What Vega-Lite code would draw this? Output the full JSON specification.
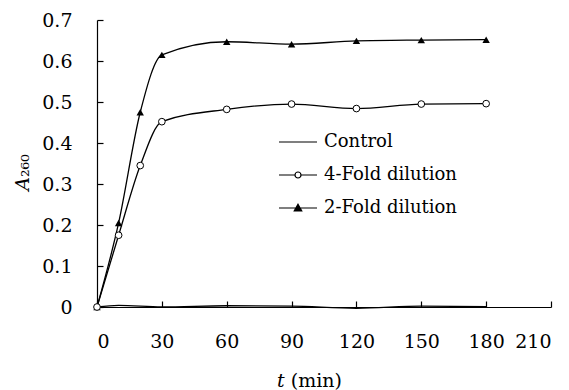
{
  "$schema": "https://vega.github.io/schema/vega-lite/v6.json",
  "autosize": "none",
  "width": 454,
  "height": 287,
  "padding": {"left": 97, "top": 20, "right": 18, "bottom": 83},
  "background": "white",
  "config": {
    "view": {"stroke": null},
    "font": "DejaVu Serif",
    "axis": {"grid": false, "domainColor": "black", "tickColor": "black", "labelColor": "black", "titleColor": "black", "labelFont": "DejaVu Serif", "titleFont": "DejaVu Serif", "labelFontSize": 19, "titleFontSize": 19, "titleFontWeight": "normal", "domainWidth": 1.2, "tickWidth": 1.2}
  },
  "data": {
    "values": [
      {"t": 0, "A": 0, "series": "Control"},
      {"t": 10, "A": 0.004, "series": "Control"},
      {"t": 30, "A": 0.0, "series": "Control"},
      {"t": 60, "A": 0.003, "series": "Control"},
      {"t": 90, "A": 0.002, "series": "Control"},
      {"t": 120, "A": -0.003, "series": "Control"},
      {"t": 150, "A": 0.002, "series": "Control"},
      {"t": 180, "A": 0.001, "series": "Control"},
      {"t": 0, "A": 0, "series": "2-Fold dilution"},
      {"t": 10, "A": 0.205, "series": "2-Fold dilution"},
      {"t": 20, "A": 0.475, "series": "2-Fold dilution"},
      {"t": 30, "A": 0.615, "series": "2-Fold dilution"},
      {"t": 60, "A": 0.647, "series": "2-Fold dilution"},
      {"t": 90, "A": 0.641, "series": "2-Fold dilution"},
      {"t": 120, "A": 0.649, "series": "2-Fold dilution"},
      {"t": 150, "A": 0.651, "series": "2-Fold dilution"},
      {"t": 180, "A": 0.652, "series": "2-Fold dilution"},
      {"t": 0, "A": 0, "series": "4-Fold dilution"},
      {"t": 10, "A": 0.175, "series": "4-Fold dilution"},
      {"t": 20, "A": 0.345, "series": "4-Fold dilution"},
      {"t": 30, "A": 0.452, "series": "4-Fold dilution"},
      {"t": 60, "A": 0.482, "series": "4-Fold dilution"},
      {"t": 90, "A": 0.495, "series": "4-Fold dilution"},
      {"t": 120, "A": 0.484, "series": "4-Fold dilution"},
      {"t": 150, "A": 0.495, "series": "4-Fold dilution"},
      {"t": 180, "A": 0.496, "series": "4-Fold dilution"}
    ]
  },
  "encoding": {
    "x": {"field": "t", "type": "quantitative", "scale": {"domain": [0, 210], "nice": false, "zero": false},
      "axis": {"values": [0, 30, 60, 90, 120, 150, 180, 210], "tickSize": -6, "labelPadding": 31, "title": "𝑡 (min)", "titleX": 212, "titleY": 79, "titleBaseline": "alphabetic", "titleAnchor": "middle", "titleAlign": "center"}},
    "y": {"field": "A", "type": "quantitative", "scale": {"domain": [0, 0.7], "nice": false},
      "axis": {"values": [0, 0.1, 0.2, 0.3, 0.4, 0.5, 0.6, 0.7], "format": ".1~f", "tickSize": -6, "labelPadding": 31, "title": "𝐴₂₆₀", "titleX": -75, "titleY": 152, "titleAngle": -90, "titleAlign": "center", "titleBaseline": "middle"}}
  },
  "layer": [
    {
      "mark": {"type": "line", "interpolate": "monotone", "color": "black", "strokeWidth": 1.3},
      "encoding": {"detail": {"field": "series"}}
    },
    {
      "transform": [{"filter": "datum.series == '2-Fold dilution'"}],
      "mark": {"type": "point", "shape": "triangle-up", "filled": true, "color": "black", "size": 55, "opacity": 1}
    },
    {
      "transform": [{"filter": "datum.series == '4-Fold dilution'"}],
      "mark": {"type": "point", "shape": "circle", "filled": true, "fill": "white", "stroke": "black", "strokeWidth": 1, "size": 45, "opacity": 1}
    },
    {
      "mark": {"type": "point", "size": 0, "filled": true, "stroke": "black", "strokeWidth": 1},
      "encoding": {
        "shape": {"field": "series", "type": "nominal",
          "scale": {"domain": ["Control", "4-Fold dilution", "2-Fold dilution"],
            "range": ["M-1.27,0H1.27", "M-1.27,0H-0.2M0.2,0H1.27M0.2,0A0.2,0.2 0 1,1 -0.2,0A0.2,0.2 0 1,1 0.2,0", "M-1.27,0H1.27M0,-0.25L0.25,0.2L-0.25,0.2Z"]},
          "legend": {"title": null, "orient": "none", "legendX": 185, "legendY": 106, "symbolSize": 900, "rowPadding": 8, "labelOffset": 10, "labelFont": "DejaVu Serif", "labelFontSize": 18, "labelColor": "black", "symbolStrokeColor": "black", "symbolStrokeWidth": 1, "symbolOpacity": 1, "padding": 0,
            "encode": {"symbols": {"update": {"stroke": {"value": "black"}, "strokeWidth": {"value": 1.2}, "opacity": {"value": 1}, "strokeOpacity": {"value": 1}}}}}},
        "fill": {"field": "series", "type": "nominal",
          "scale": {"domain": ["Control", "4-Fold dilution", "2-Fold dilution"], "range": ["transparent", "white", "black"]},
          "legend": {"title": null, "orient": "none", "legendX": 185, "legendY": 106, "symbolSize": 900, "rowPadding": 8, "labelOffset": 10, "labelFont": "DejaVu Serif", "labelFontSize": 18, "labelColor": "black", "symbolStrokeColor": "black", "symbolStrokeWidth": 1, "symbolOpacity": 1, "padding": 0,
            "encode": {"symbols": {"update": {"stroke": {"value": "black"}, "strokeWidth": {"value": 1.2}, "opacity": {"value": 1}, "strokeOpacity": {"value": 1}}}}}}
      }
    }
  ]
}
